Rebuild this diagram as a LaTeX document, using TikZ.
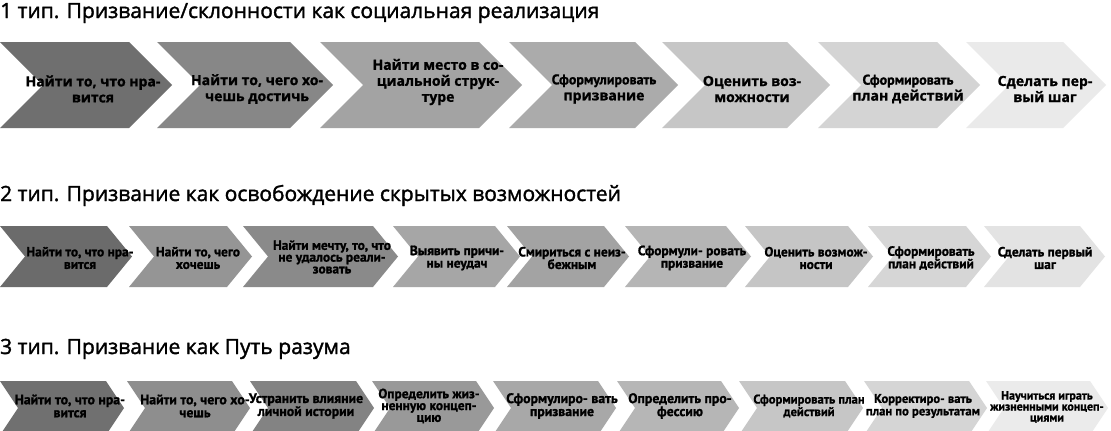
\documentclass[tikz,border=0pt]{standalone}
\usepackage{fontspec}
\setmainfont{PT Sans}[BoldFeatures={FakeBold=1.2}]
\newfontfamily\titlefont[FakeBold=1.6]{Open Sans}
\newfontfamily\widefont[BoldFeatures={FakeBold=1.2}]{Open Sans}
\newfontfamily\narrowfont[BoldFeatures={FakeBold=1.2}]{PT Sans}
\definecolor{ra1}{HTML}{6F6F6F}
\definecolor{ra2}{HTML}{878787}
\definecolor{ra3}{HTML}{A3A3A3}
\definecolor{ra4}{HTML}{ABABAB}
\definecolor{ra5}{HTML}{C6C6C6}
\definecolor{ra6}{HTML}{D4D4D4}
\definecolor{ra7}{HTML}{EAEAEA}
\definecolor{rb1}{HTML}{6B6B6B}
\definecolor{rb2}{HTML}{959595}
\definecolor{rb3}{HTML}{8A8A8A}
\definecolor{rb4}{HTML}{A6A6A6}
\definecolor{rb5}{HTML}{A3A3A3}
\definecolor{rb6}{HTML}{B5B5B5}
\definecolor{rb7}{HTML}{C5C5C5}
\definecolor{rb8}{HTML}{D6D6D6}
\definecolor{rb9}{HTML}{E3E3E3}
\definecolor{rc1}{HTML}{707070}
\definecolor{rc2}{HTML}{8E8E8E}
\definecolor{rc3}{HTML}{838383}
\definecolor{rc4}{HTML}{999999}
\definecolor{rc5}{HTML}{A8A8A8}
\definecolor{rc6}{HTML}{B6B6B6}
\definecolor{rc7}{HTML}{C6C6C6}
\definecolor{rc8}{HTML}{D5D5D5}
\definecolor{rc9}{HTML}{EBEBEB}
% #1 left x, #2 right x (top corners), #3 top y, #4 bottom y, #5 tip depth, #6 colour
\newcommand\mychev[6]{%
  \fill[#6] (#1,#3) -- (#2,#3) -- ({#2+#5},{(#3+#4)/2}) -- (#2,#4) -- (#1,#4)
    -- ({#1+#5},{(#3+#4)/2}) -- cycle;}
\newcommand\cond[1]{{\narrowfont\bfseries\fontsize{14}{16}\selectfont #1}}
\tikzset{
  titletext/.style={anchor=base west, inner sep=0pt, text=black, font=\titlefont\fontsize{21}{22}\selectfont},
  bigtext/.style={align=center, inner sep=0pt, text=black, font=\widefont\bfseries\fontsize{14}{16}\selectfont},
  smalltext/.style={align=center, inner sep=0pt, text=black, font=\bfseries\fontsize{13.4}{12.5}\selectfont},
  threetext/.style={align=center, inner sep=0pt, text=black, font=\bfseries\fontsize{13.4}{11.8}\selectfont},
  rowthree/.style={align=center, inner sep=0pt, text=black, font=\bfseries\fontsize{13.8}{13}\selectfont},
  rowthreesm/.style={align=center, inner sep=0pt, text=black, font=\bfseries\fontsize{12.6}{12.5}\selectfont},
  tinytext/.style={align=center, inner sep=0pt, text=black, font=\bfseries\fontsize{12}{11}\selectfont},
}
\begin{document}
\begin{tikzpicture}[x=1pt,y=-1pt]
\useasboundingbox (0,0) rectangle (1111,431);
\clip (0,0) rectangle (1111,431);
\fill[white] (0,0) rectangle (1111,431);
% ---------- row 1 ----------
\node[titletext] (t1) at (0,18) {1 тип. Призвание/склонности как социальная реализация};
\mychev{0}{129}{42}{128}{43}{ra1}
\mychev{157}{290}{42}{128}{43}{ra2}
\mychev{320}{479}{42}{128}{43}{ra3}
\mychev{509}{635}{42}{128}{43}{ra4}
\mychev{662}{787}{42}{128}{43}{ra5}
\mychev{818}{937}{42}{128}{43}{ra6}
\mychev{966}{1063}{42}{128}{43}{ra7}
\node[bigtext] (a1) at (93,89) {Найти то, что нра-\\вится};
\node[bigtext] (a2) at (257,89) {Найти то, чего хо-\\чешь достичь};
\node[bigtext] (a3) at (438,82) {Найти место в со-\\циальной струк-\\туре};
\node[bigtext] (a4) at (604,89) {\cond{Сформулировать}\\призвание};
\node[bigtext] (a5) at (752,89) {Оценить воз-\\можности};
\node[bigtext] (a6) at (908,89) {\cond{Сформировать}\\план действий};
\node[bigtext] (a7) at (1045,89) {Сделать пер-\\вый шаг};
% ---------- row 2 ----------
\node[titletext] (t2) at (0,201) {2 тип. Призвание как освобождение скрытых возможностей};
\mychev{0}{107}{226}{287}{25}{rb1}
\mychev{129}{227}{226}{287}{25}{rb2}
\mychev{243}{373}{226}{287}{25}{rb3}
\mychev{393}{495}{226}{287}{25}{rb4}
\mychev{507}{604}{226}{287}{25}{rb5}
\mychev{625}{726}{226}{287}{25}{rb6}
\mychev{745}{848}{226}{287}{25}{rb7}
\mychev{868}{966}{226}{287}{25}{rb8}
\mychev{984}{1080}{226}{287}{25}{rb9}
\node[smalltext] (b1) at (80,258) {Найти то, что нра-\\вится};
\node[smalltext] (b2) at (198,258) {Найти то, чего\\хочешь};
\node[threetext] (b3) at (332,257) {Найти мечту, то, что\\не удалось реали-\\зовать};
\node[smalltext] (b4) at (457,258) {Выявить причи-\\ны неудач};
\node[smalltext] (b5) at (572,258) {Смириться с неиз-\\бежным};
\node[smalltext] (b6) at (692,258) {Сформули- ровать\\призвание};
\node[smalltext] (b7) at (816,258) {Оценить возмож-\\ности};
\node[smalltext] (b8) at (931,258) {Сформировать\\план действий};
\node[smalltext] (b9) at (1045,258) {Сделать первый\\шаг};
% ---------- row 3 ----------
\node[titletext] (t3) at (0,354) {3 тип. Призвание как Путь разума};
\mychev{0}{106}{381}{435}{18}{rc1}
\mychev{127}{232}{381}{435}{18}{rc2}
\mychev{250}{356}{381}{435}{18}{rc3}
\mychev{372}{476}{381}{435}{18}{rc4}
\mychev{493}{598}{381}{435}{18}{rc5}
\mychev{617}{721}{381}{435}{18}{rc6}
\mychev{739}{845}{381}{435}{18}{rc7}
\mychev{864}{969}{381}{435}{18}{rc8}
\mychev{986}{1090}{381}{435}{18}{rc9}
\node[rowthree] (c1) at (70,406) {Найти то, что нра-\\вится};
\node[rowthree] (c2) at (195,406) {Найти то, чего хо-\\чешь};
\node[rowthree] (c3) at (306,406) {Устранить влияние\\личной истории};
\node[threetext] (c4) at (429,406) {Определить жиз-\\ненную концеп-\\цию};
\node[rowthree] (c5) at (562,406) {Сформулиро- вать\\призвание};
\node[rowthree] (c6) at (680,406) {Определить про-\\фессию};
\node[rowthreesm] (c7) at (809,406) {Сформировать план\\действий};
\node[rowthreesm] (c8) at (923,406) {Корректиро- вать\\план по результатам};
\node[tinytext] (c9) at (1047,407) {Научиться играть\\жизненными концеп-\\циями};
\end{tikzpicture}
\end{document}
